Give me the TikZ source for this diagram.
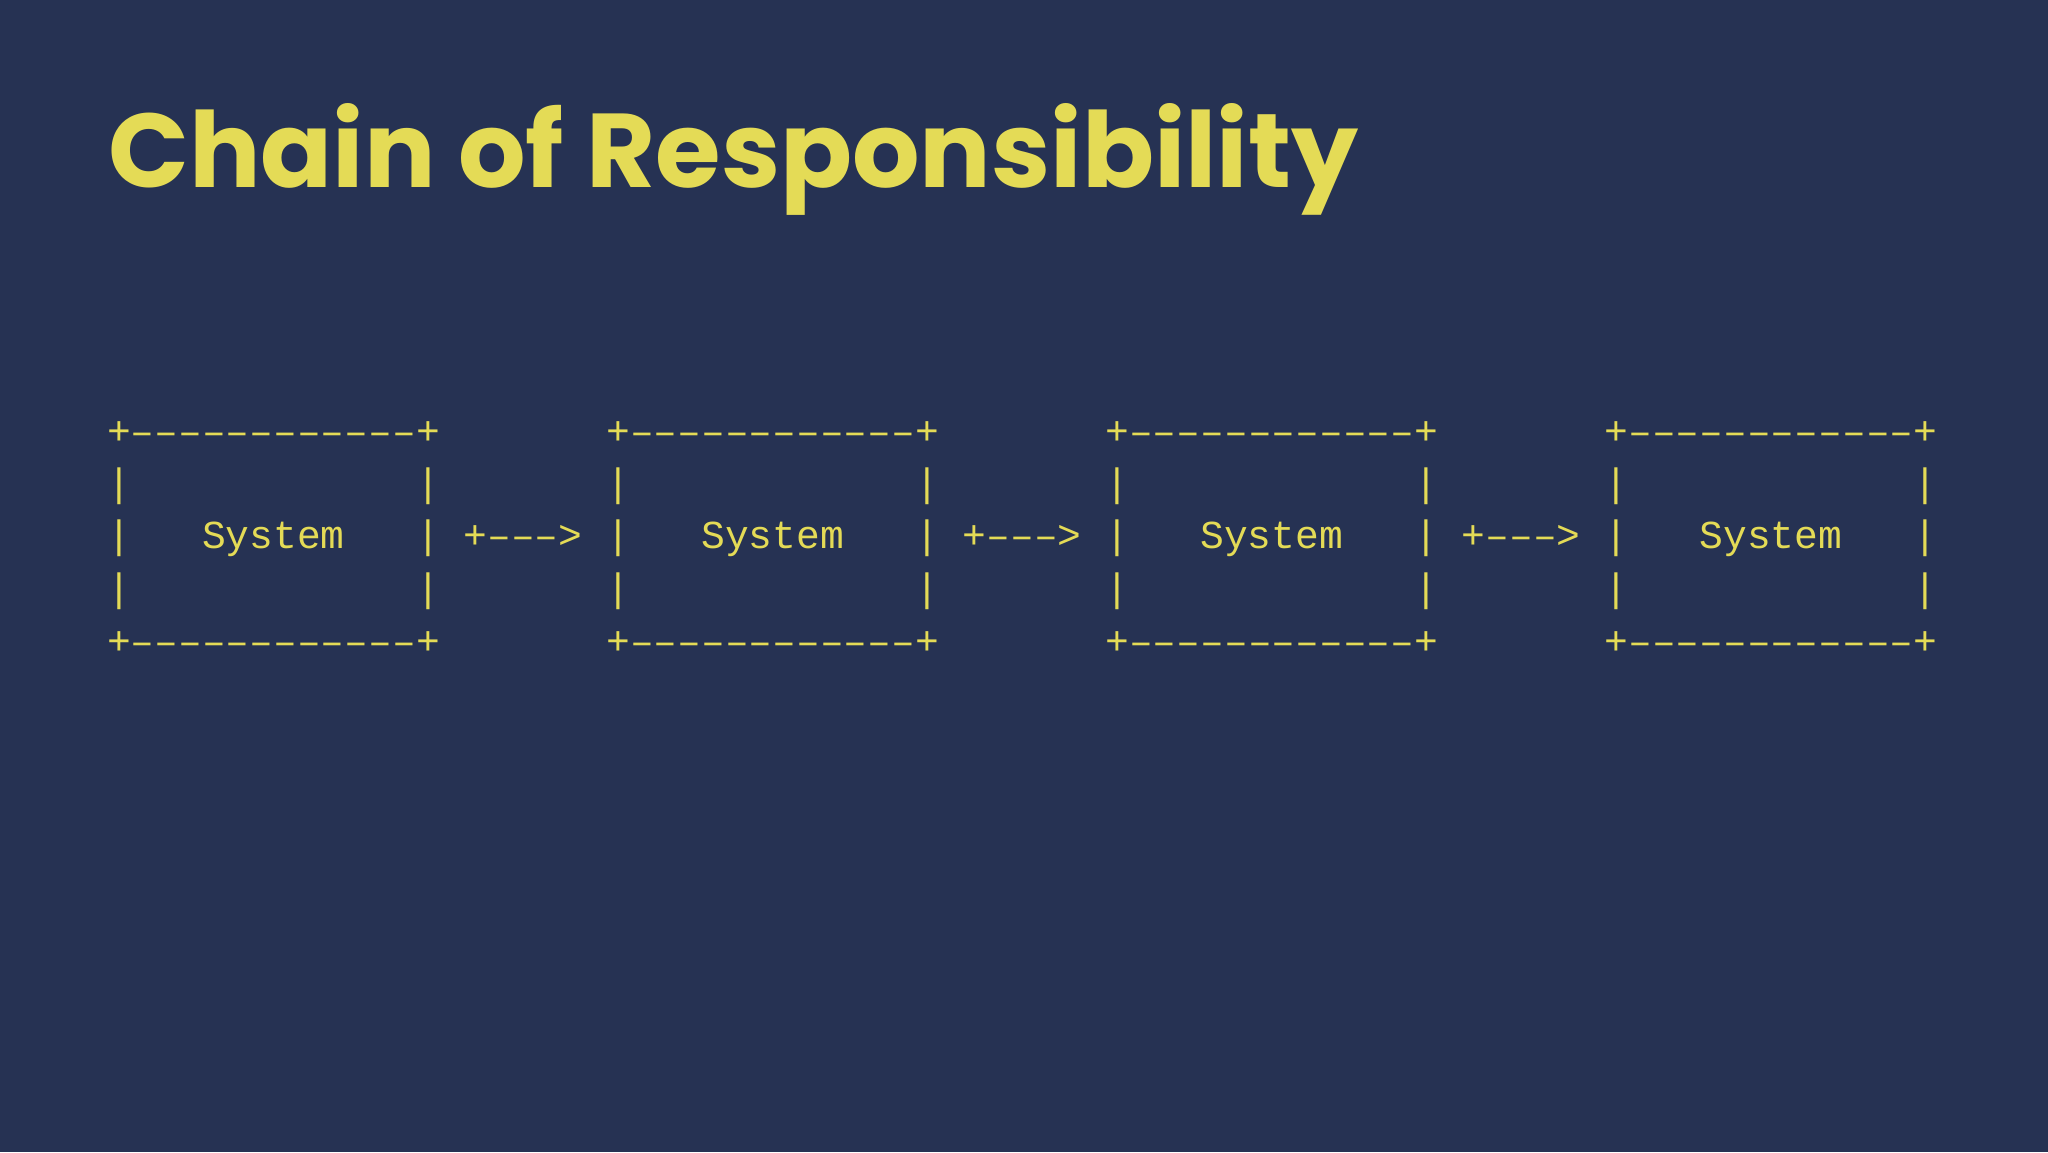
\documentclass[tikz,border=0pt]{standalone}
\usepackage{fontspec}
\usepackage{graphicx}
\setmonofont{Liberation Mono}
\newfontfamily\titlefont{Poppins}
\definecolor{bgnavy}{RGB}{38,50,83}
\definecolor{ylw}{RGB}{228,219,86}
\newlength\cw
\setlength\cw{23.77pt}
\newcommand\gap[1]{\hspace*{#1\cw}}
\newcommand\boxedge{+––––––––––––+}
\newcommand\boxside{|\gap{12}|}
\tikzset{
  asciirow/.style={anchor=base west, inner sep=0pt, outer sep=0pt, text=ylw,
    font=\ttfamily\fontsize{39.61pt}{52.5pt}\selectfont},
  titlestyle/.style={anchor=base west, inner sep=0pt, text=ylw}
}
\begin{document}
\begin{tikzpicture}[x=1pt,y=1pt]
\path[fill=bgnavy, use as bounding box] (0,0) rectangle (2048,-1152);
\node[titlestyle] (title) at (108,-187) {\resizebox{1250pt}{84pt}{\titlefont\bfseries Chain of Responsibility}};
\node[asciirow] (row1) at (107.1,-444) {\boxedge\gap{7}\boxedge\gap{7}\boxedge\gap{7}\boxedge};
\node[asciirow] (row2) at (107.1,-496.5) {\boxside\gap{7}\boxside\gap{7}\boxside\gap{7}\boxside};
\node[asciirow] (row3) at (107.1,-548) {|\gap{3}System\gap{3}|\gap{1}+–––>\gap{1}|\gap{3}System\gap{3}|\gap{1}+–––>\gap{1}|\gap{3}System\gap{3}|\gap{1}+–––>\gap{1}|\gap{3}System\gap{3}|};
\node[asciirow] (row4) at (107.1,-601.5) {\boxside\gap{7}\boxside\gap{7}\boxside\gap{7}\boxside};
\node[asciirow] (row5) at (107.1,-654) {\boxedge\gap{7}\boxedge\gap{7}\boxedge\gap{7}\boxedge};
\end{tikzpicture}
\end{document}
